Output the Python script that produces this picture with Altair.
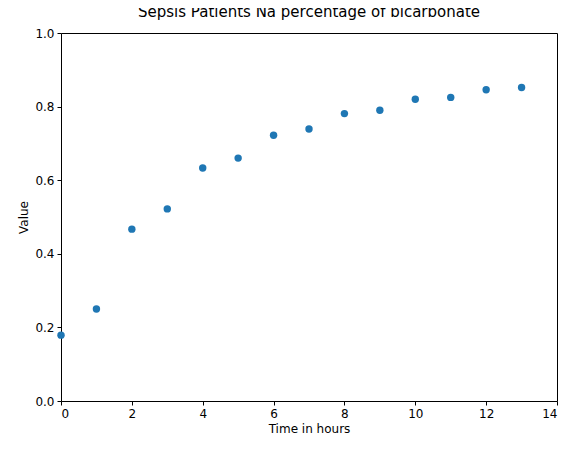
import altair as alt
import pandas as pd

hours = list(range(14))
values = [0.179, 0.25, 0.467, 0.522, 0.633, 0.660, 0.722, 0.739, 0.781, 0.790, 0.820, 0.825, 0.846, 0.852]

df = pd.DataFrame({"t": hours, "v": values})

chart = alt.Chart(df).mark_circle(size=55, opacity=1, color="#1f77b4").encode(
    x=alt.X("t:Q", title="Time in hours", scale=alt.Scale(domain=[0, 14], nice=False),
            axis=alt.Axis(values=[0, 2, 4, 6, 8, 10, 12, 14], format="d")),
    y=alt.Y("v:Q", title="Value", scale=alt.Scale(domain=[0, 1], nice=False),
            axis=alt.Axis(values=[0, 0.2, 0.4, 0.6, 0.8, 1.0], format=".1f")),
).properties(
    width=496, height=368,
    title=alt.Title("Sepsis Patients Na percentage of bicarbonate", fontSize=15, fontWeight="normal", font="DejaVu Sans", offset=7),
    autosize=alt.AutoSizeParams(type="none"),
    padding={"left": 53, "top": 25, "right": 10, "bottom": 40},
).configure_view(stroke="black", strokeWidth=1).configure_axis(
    grid=False, domain=False, tickColor="black", tickSize=4, labelColor="black",
    labelFont="DejaVu Sans", titleFont="DejaVu Sans", labelFontSize=12, titleFontSize=12,
    titleFontWeight="normal", titleColor="black", labelPadding=3, titlePadding=4,
)

chart.save("out.html", embed_options={"renderer": "svg", "actions": False})
